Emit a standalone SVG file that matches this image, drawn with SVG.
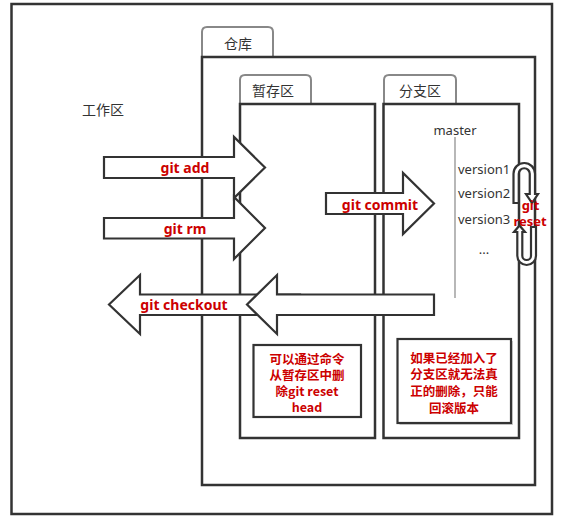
<svg xmlns="http://www.w3.org/2000/svg" width="561" height="521" viewBox="0 0 561 521">
<style>
.box{fill:none;stroke:#333;stroke-width:2.5}
.tab{fill:#fff;stroke:#888;stroke-width:2}
.arrow{fill:#fff;stroke:#333;stroke-width:2.2;stroke-linejoin:miter}
.shadow{fill:#d0d0d0;stroke:none}
.t{font-family:"Noto Sans","Noto Sans CJK SC",sans-serif;font-size:13px;fill:#333}
.tc{font-family:"Noto Sans CJK SC","Noto Sans",sans-serif;font-size:14px;fill:#333;text-anchor:middle}
.lbl{font-family:"Noto Sans","Noto Sans CJK SC",sans-serif;font-size:14px;font-weight:bold;fill:#cc0000;text-anchor:middle}
.rs{font-size:13px}
.note{font-family:"Noto Sans CJK SC","Noto Sans",sans-serif;font-size:12.5px;font-weight:bold;fill:#cc0000;text-anchor:middle}
</style>
<rect width="561" height="521" fill="#fff"/>
<g id="workspace">
<rect class="box" x="11.5" y="4" width="540.5" height="510" stroke-width="2"/>
<text class="tc" x="103" y="115">工作区</text>
</g>
<g id="repo">
<path class="tab" d="M202,57 L202,32 Q202,27 207,27 L268,27 Q273,27 273,32 L273,57"/>
<rect class="box" x="202" y="57" width="333" height="428"/>
<text class="tc" x="238" y="49">仓库</text>
</g>
<g id="stage">
<path class="tab" d="M240,104 L240,80 Q240,75 245,75 L306,75 Q311,75 311,80 L311,104"/>
<rect class="box" x="240" y="104" width="135" height="334"/>
<text class="tc" x="273" y="96">暂存区</text>
</g>
<g id="branch">
<path class="tab" d="M384,104 L384,80 Q384,75 389,75 L451,75 Q456,75 456,80 L456,104"/>
<rect class="box" x="383.5" y="104" width="135.5" height="334"/>
<text class="tc" x="420" y="96">分支区</text>
<text class="t" x="455" y="135" text-anchor="middle">master</text>
<line x1="455" y1="137" x2="455" y2="298" stroke="#888" stroke-width="1.2"/>
<text class="t" x="458" y="174">version1</text>
<text class="t" x="458" y="198">version2</text>
<text class="t" x="458" y="224">version3</text>
<text class="t" x="484" y="254" text-anchor="middle">...</text>
</g>
<g id="note-stage">
<rect x="253.5" y="345" width="107.5" height="72" fill="#fff" stroke="#333" stroke-width="2.2"/>
<text class="note" x="307" y="364">可以通过命令</text>
<text class="note" x="307" y="380">从暂存区中删</text>
<text class="note" x="307" y="396">除git reset</text>
<text class="note" x="307" y="412">head</text>
</g>
<g id="note-branch">
<rect class="shadow" x="399.5" y="341" width="113.5" height="84"/>
<rect x="397.5" y="339" width="113.5" height="84" fill="#fff" stroke="#333" stroke-width="2.2"/>
<text class="note" x="454" y="363">如果已经加入了</text>
<text class="note" x="454" y="379">分支区就无法真</text>
<text class="note" x="454" y="396">正的删除，只能</text>
<text class="note" x="454" y="413">回滚版本</text>
</g>
<g id="connectors">
<g id="git-add">
<path class="arrow" d="M104,157 L234,157 L234,137 L265,167.5 L234,198 L234,178 L104,178 Z"/>
<text class="lbl" x="185" y="173">git add</text>
</g>
<g id="git-rm">
<path class="arrow" d="M104,218 L234,218 L234,197 L265,228 L234,259 L234,238.5 L104,238.5 Z"/>
<text class="lbl" x="185" y="234">git rm</text>
</g>
<g id="git-commit">
<path class="arrow" d="M326,193 L403,193 L403,173 L434,203.5 L403,234 L403,214 L326,214 Z"/>
<text class="lbl" x="380" y="210">git commit</text>
</g>
<g id="git-checkout">
<path class="arrow" d="M109,304.5 L140,275 L140,294.5 L300,294.5 L300,315 L140,315 L140,334 Z"/>
<path class="arrow" d="M247,304.5 L277,275 L277,294.5 L434,294.5 L434,315 L277,315 L277,334 Z"/>
<text class="lbl" x="184" y="310">git checkout</text>
</g>
<g id="git-reset">
<path class="arrow" stroke-width="2" d="M513.5,203 L513.5,173.75 A10.75,10.75 0 0 1 535,173.75 L535,194 L538,194 L532,203 L526,194 L529.75,194 L529.75,173.75 A5.5,5.5 0 0 0 518.75,173.75 L518.75,203 Z"/>
<path class="arrow" stroke-width="2" d="M519.5,225.5 L525,232 L522.3,232 L522.3,255.65 A4.35,4.35 0 0 0 531,255.65 L531,227 L536,227 L536,255.65 A9.35,9.35 0 0 1 517.3,255.65 L517.3,232 L514,232 Z"/>
<text class="lbl rs" x="530.5" y="210">git</text>
<text class="lbl rs" x="530" y="226">reset</text>
</g>
</g>
</svg>
